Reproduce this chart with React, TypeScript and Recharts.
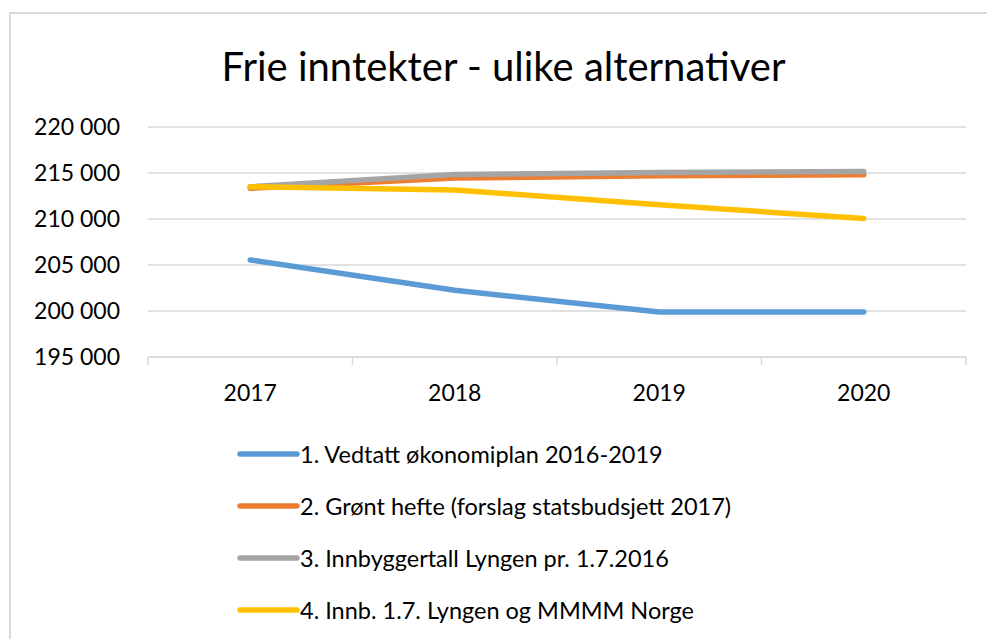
import React from 'react';
import { LineChart, Line, XAxis, YAxis, CartesianGrid, Legend } from 'recharts';

const years = ['2017', '2018', '2019', '2020'];
const vedtatt = [205550, 202250, 199900, 199900];
const grontHefte = [213350, 214450, 214700, 214800];
const innbyggertall = [213500, 214850, 215050, 215150];
const innbNorge = [213500, 213150, 211550, 210050];
const yTicks = [195000, 200000, 205000, 210000, 215000, 220000];

const series = [
  { key: 'vedtatt', name: '1. Vedtatt økonomiplan 2016-2019', color: '#5b9bd5', values: vedtatt },
  { key: 'gront', name: '2. Grønt hefte (forslag statsbudsjett 2017)', color: '#ed7d31', values: grontHefte },
  { key: 'innb', name: '3. Innbyggertall Lyngen pr. 1.7.2016', color: '#a5a5a5', values: innbyggertall },
  { key: 'norge', name: '4. Innb. 1.7. Lyngen og MMMM Norge', color: '#ffc000', values: innbNorge },
];

const data = years.map((year, i) => {
  const row: Record<string, string | number> = { year };
  series.forEach((s) => {
    row[s.key] = s.values[i];
  });
  return row;
});

const FONT = 'Lato, "Open Sans", sans-serif';

const formatThousands = (v: number) => v.toLocaleString('en-US').replace(/,/g, ' ');

const YearTick = (props: any) => {
  const { x, y, payload, index, visibleTicksCount } = props;
  const off = payload?.offset ?? 0;
  return (
    <g>
      <line x1={x - off} x2={x - off} y1={y} y2={y + 8} stroke="#d9d9d9" strokeWidth={1.5} />
      {index === visibleTicksCount - 1 && (
        <line x1={x + off} x2={x + off} y1={y} y2={y + 8} stroke="#d9d9d9" strokeWidth={1.5} />
      )}
      <text x={x} y={y + 44} textAnchor="middle" fill="#000" fontSize={23} fontFamily={FONT}>
        {payload.value}
      </text>
    </g>
  );
};

const renderLegend = () => (
  <div style={{ fontFamily: FONT, fontSize: 23.5, color: '#000' }}>
    {series.map((s) => (
      <div key={s.key} style={{ display: 'flex', alignItems: 'center', height: 52 }}>
        <svg width={64} height={10} style={{ marginRight: 0 }}>
          <line x1={4} x2={61} y1={5} y2={5} stroke={s.color} strokeWidth={5.5} strokeLinecap="round" />
        </svg>
        <span>{s.name}</span>
      </div>
    ))}
  </div>
);

export default function App() {
  return (
    <div style={{ position: 'absolute', left: 0, top: 0, width: 987, height: 639, overflow: 'hidden', background: '#fff' }}>
      <div
        style={{
          position: 'absolute',
          left: 9,
          top: 12,
          width: 1000,
          height: 700,
          border: '2px solid #d9d9d9',
        }}
      />
      <div
        style={{
          position: 'absolute',
          left: 0,
          width: 1007,
          top: 42,
          textAlign: 'center',
          fontFamily: FONT,
          fontSize: 40,
          color: '#000',
        }}
      >
        Frie inntekter - ulike alternativer
      </div>
      <div style={{ position: 'absolute', left: 0, top: 0 }}>
        <LineChart width={987} height={639} data={data} margin={{ top: 127, right: 21, bottom: 232, left: 0 }}>
          <CartesianGrid vertical={false} stroke="#d9d9d9" strokeWidth={1.5} />
          <XAxis
            dataKey="year"
            scale="band"
            axisLine={{ stroke: '#d9d9d9', strokeWidth: 1.5 }}
            tickLine={false}
            tickSize={0}
            tickMargin={0}
            height={50}
            tick={<YearTick />}
            interval={0}
          />
          <YAxis
            width={148}
            domain={[195000, 220000]}
            ticks={yTicks}
            tickFormatter={formatThousands}
            axisLine={false}
            tickLine={false}
            tickSize={0}
            tickMargin={28}
            tick={{ fill: '#000', fontSize: 23, fontFamily: FONT }}
            interval={0}
          />
          <Legend
            layout="vertical"
            align="center"
            verticalAlign="middle"
            content={renderLegend}
            wrapperStyle={{ position: 'absolute', left: 236, top: 428, width: 600 }}
          />
          {series.map((s) => (
            <Line
              key={s.key}
              type="linear"
              dataKey={s.key}
              name={s.name}
              stroke={s.color}
              strokeWidth={5.5}
              strokeLinecap="round"
              strokeLinejoin="round"
              dot={false}
              activeDot={false}
              isAnimationActive={false}
            />
          ))}
        </LineChart>
      </div>
    </div>
  );
}
